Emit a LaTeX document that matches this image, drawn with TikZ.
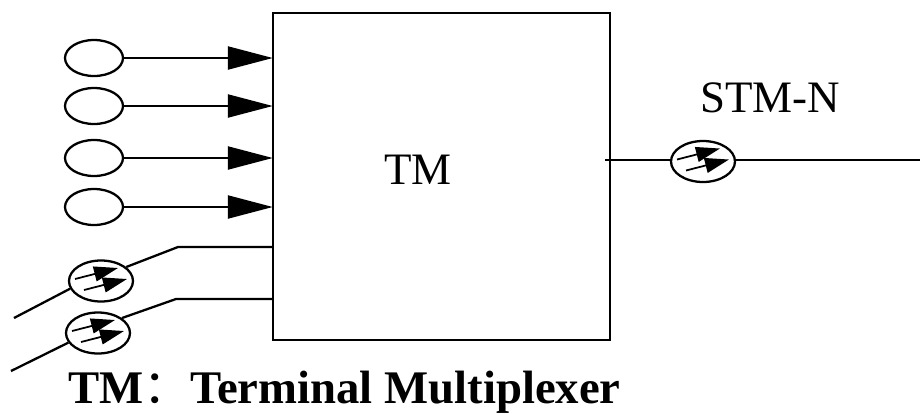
\documentclass[tikz,border=0pt]{standalone}
\usepackage{fontspec}
\setmainfont{Liberation Serif}
\newfontfamily\cjk{Noto Sans CJK SC}
\usetikzlibrary{arrows.meta,shapes.geometric}
\begin{document}
\begin{tikzpicture}[
    x=0.02cm, y=-0.02cm,
    line width=1.3pt,
    port/.style={ellipse, draw, minimum width=1.16cm, minimum height=0.72cm, inner sep=0},
    optport/.style={ellipse, draw, minimum width=1.28cm, minimum height=0.82cm, inner sep=0},
    input/.style={draw, -{Triangle[length=0.9cm, width=0.46cm]}, shorten >=-0.5pt},
    beam/.style={draw, line width=1pt, -{Triangle[length=0.48cm, width=0.3cm]}},
    textnode/.style={inner sep=0, font=\fontsize{25.6}{30}\selectfont},
    titlenode/.style={inner sep=0, font=\fontsize{26.6}{30}\selectfont\bfseries}
    ]
    \useasboundingbox (0,0) rectangle (920,413);

    % Multiplexer box
    \node[draw, minimum width=6.74cm, minimum height=6.54cm, inner sep=0] (tm) at (441.5,176.5) {};
    \node[textnode] (tmlabel) at (418,170) {TM};

    % Electrical inputs
    \node[port] (in1) at (94,58) {};
    \node[port] (in2) at (94,106) {};
    \node[port] (in3) at (94,158) {};
    \node[port] (in4) at (94,207) {};
    \foreach \n in {in1,in2,in3,in4}
        \draw[input] (\n) -- (\n -| tm.west);

    % Optical ports
    \node[optport] (opt1) at (101,281) {};
    \node[optport] (opt2) at (98,333) {};
    \node[optport] (opt3) at (703,161.5) {};
    \foreach \n in {opt1,opt2,opt3} {
        \draw[beam] ([shift={(-26,-2)}]\n.center) -- ([shift={(17,-13)}]\n.center);
        \draw[beam] ([shift={(-17,9)}]\n.center) -- ([shift={(26,-2)}]\n.center);
    }

    % Optical inputs
    \coordinate (far1) at (14,318);
    \coordinate (bend1) at (178,247);
    \coordinate (far2) at (11,371);
    \coordinate (bend2) at (176,299);
    \draw (far1) -- (opt1.194);
    \draw (opt1.29) -- (bend1) -- (bend1 -| tm.west);
    \draw (far2) -- (opt2.198);
    \draw (opt2.32) -- (bend2) -- (bend2 -| tm.west);

    % Output line
    \coordinate (outstart) at (605,160);
    \coordinate (outend) at (920,160);
    \draw (outstart) -- (outstart -| opt3.west);
    \draw (outend -| opt3.east) -- (outend);
    \node[textnode] (stm) at (770,98) {STM-N};

    % Caption
    \node[titlenode, anchor=base west] (caption) at (67,403) {TM{\cjk\mdseries ：}Terminal Multiplexer};
\end{tikzpicture}
\end{document}
